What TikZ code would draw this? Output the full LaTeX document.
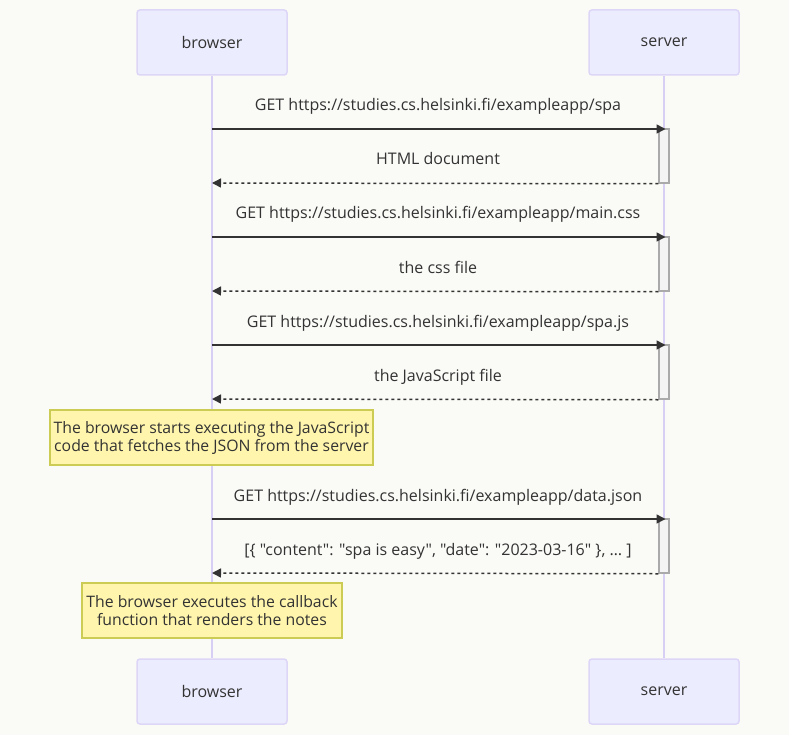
\documentclass[tikz,border=0pt]{standalone}
\usepackage{fontspec}
\setmainfont{Open Sans}[Ligatures=TeXOff]
\usetikzlibrary{arrows.meta}
\definecolor{bgc}{HTML}{FAFAF7}
\definecolor{actfill}{HTML}{ECECFF}
\definecolor{actline}{HTML}{DDD6F6}
\definecolor{lifec}{HTML}{D8CFF5}
\definecolor{notefill}{HTML}{FFF5AD}
\definecolor{noteline}{HTML}{CCCC55}
\definecolor{txt}{HTML}{333333}
\definecolor{actvfill}{HTML}{F4F4F4}
\definecolor{actvline}{HTML}{AAAAAA}
\begin{document}
\begin{tikzpicture}[x=1pt,y=-1pt,
  font=\fontsize{16}{18}\selectfont, text=txt,
  actor/.style={draw=actline, line width=1.5pt, fill=actfill, rounded corners=3pt, minimum width=150pt, minimum height=65pt, inner sep=0pt},
  life/.style={draw=lifec, line width=1.2pt},
  activ/.style={draw=actvline, line width=1.5pt, fill=actvfill, minimum width=10pt, inner sep=0pt},
  msg/.style={draw=txt, line width=1.5pt, -{Triangle[length=9pt,width=9pt]}},
  ret/.style={msg, dash pattern=on 3pt off 3pt},
  lbl/.style={inner sep=0pt, anchor=base},
  notebox/.style={draw=noteline, line width=1.2pt, fill=notefill, inner sep=0pt, align=center, font=\fontsize{15.8}{18}\selectfont}
]
\fill[bgc] (0,0) rectangle (789,735);
\useasboundingbox (0,0) rectangle (789,735);
\node[actor] (bt) at (212,42.5) {browser};
\node[actor] (st) at (664,42.5) {server};
\node[actor] (bb) at (212,691.5) {\raisebox{-1pt}{browser}};
\node[actor] (sb) at (664,691.5) {\raisebox{-1pt}{server}};
\draw[life] (bt.south) -- (bb.north);
\draw[life] (st.south) -- (sb.north);
% activations
\node[activ, minimum height=54pt] (a1) at (664,156) {};
\node[activ, minimum height=54pt] (a2) at (664,264) {};
\node[activ, minimum height=54pt] (a3) at (664,372) {};
\node[activ, minimum height=54pt] (a4) at (664,546) {};
% browser side coordinates
\coordinate (b1) at (212,129);
\coordinate (b2) at (212,183);
\coordinate (b3) at (212,237);
\coordinate (b4) at (212,291);
\coordinate (b5) at (212,345);
\coordinate (b6) at (212,399);
\coordinate (b7) at (212,519);
\coordinate (b8) at (212,573);
\coordinate (s1) at (665.5,129);
\coordinate (s3) at (665.5,237);
\coordinate (s5) at (665.5,345);
\coordinate (s7) at (665.5,519);
\draw[msg] (b1) -- (s1);
\draw[ret] (a1.south west) -- (b2);
\draw[msg] (b3) -- (s3);
\draw[ret] (a2.south west) -- (b4);
\draw[msg] (b5) -- (s5);
\draw[ret] (a3.south west) -- (b6);
\draw[msg] (b7) -- (s7);
\draw[ret] (a4.south west) -- (b8);
% labels
\node[lbl] (l1) at (438,111) {GET https://studies.cs.helsinki.fi/exampleapp/spa};
\node[lbl] (l2) at (438,165) {HTML document};
\node[lbl] (l3) at (438,219) {GET https://studies.cs.helsinki.fi/exampleapp/main.css};
\node[lbl] (l4) at (438,273) {the css file};
\node[lbl] (l5) at (438,327) {GET https://studies.cs.helsinki.fi/exampleapp/spa.js};
\node[lbl] (l6) at (438,381) {the JavaScript file};
\node[lbl] (l7) at (438,501) {GET https://studies.cs.helsinki.fi/exampleapp/data.json};
\node[lbl] (l8) at (438,555) {[\{ "content": "spa is easy", "date": "2023-03-16" \}, … ]};
% notes
\node[notebox, minimum width=323pt, minimum height=55pt] (n1) at (211.5,437.5) {The browser starts executing the JavaScript\\code that fetches the JSON from the server};
\node[notebox, minimum width=260pt, minimum height=55pt] (n2) at (212,610.5) {The browser executes the callback\\function that renders the notes};
\end{tikzpicture}
\end{document}
